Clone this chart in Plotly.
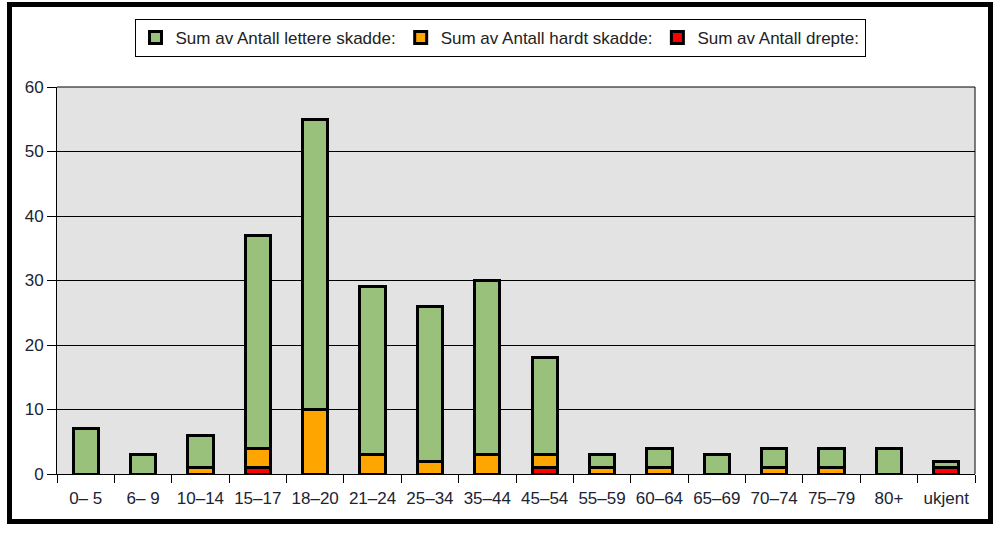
import plotly.graph_objects as go

categories = ["0– 5", "6– 9", "10–14", "15–17", "18–20", "21–24", "25–34", "35–44",
              "45–54", "55–59", "60–64", "65–69", "70–74", "75–79", "80+", "ukjent"]
drepte = [0, 0, 0, 1, 0, 0, 0, 0, 1, 0, 0, 0, 0, 0, 0, 1]
hardt = [0, 0, 1, 3, 10, 3, 2, 3, 2, 1, 1, 0, 1, 1, 0, 0]
lettere = [7, 3, 5, 33, 45, 26, 24, 27, 15, 2, 3, 3, 3, 3, 4, 1]
y_ticks = [0, 10, 20, 30, 40, 50, 60]

L, R, T, B = 57, 975, 87, 474
W, H = 1003, 539
pw, ph = R - L, B - T

def px(x):
    return (x - L) / pw

def py(y):
    return (B - y) / ph

fig = go.Figure()
line = dict(color="black", width=3)
fig.add_trace(go.Bar(x=categories, y=drepte, name="Sum av Antall drepte:",
                     marker=dict(color="#ff0000", line=line)))
fig.add_trace(go.Bar(x=categories, y=hardt, name="Sum av Antall hardt skadde:",
                     marker=dict(color="#ffa500", line=line)))
fig.add_trace(go.Bar(x=categories, y=lettere, name="Sum av Antall lettere skadde:",
                     marker=dict(color="#99c17c", line=line)))

font_color = "#1b2333"
fig.update_layout(
    width=W, height=H,
    barmode="stack", bargap=0.56,
    paper_bgcolor="white", plot_bgcolor="#e3e3e3",
    font=dict(family="Liberation Sans, Arial", size=17, color=font_color),
    margin=dict(l=L, r=W - R, t=T, b=H - B, pad=0),
    legend=dict(orientation="h", traceorder="reversed",
                x=px(500), xanchor="center", y=py(19), yanchor="top",
                bordercolor="black", borderwidth=1, bgcolor="white",
                itemwidth=30, tracegroupgap=0,
                font=dict(size=17, color="#222222")),
    xaxis=dict(type="category", showgrid=False, ticks="outside", tickson="boundaries",
               ticklen=8, tickcolor="black", tickwidth=1, ticklabelstandoff=9,
               showline=True, linecolor="black", linewidth=1, mirror=False,
               tickfont=dict(size=17, color=font_color)),
    yaxis=dict(range=[0, 60], tickvals=y_ticks, showgrid=True, gridcolor="black",
               gridwidth=1, ticks="outside", ticklen=9, tickcolor="black",
               showline=True, linecolor="black", linewidth=1, zeroline=False,
               tickfont=dict(size=17, color=font_color)),
    shapes=[
        dict(type="line", xref="paper", yref="paper", x0=1, x1=1,
             y0=0, y1=1, line=dict(color="black", width=1)),
        dict(type="line", xref="paper", yref="paper", x0=0, x1=1, y0=1, y1=1,
             line=dict(color="black", width=1)),
        dict(type="rect", xref="paper", yref="paper",
             x0=px(9.5), x1=px(990.5), y0=py(521.5), y1=py(4.5),
             line=dict(color="black", width=5), layer="above"),
    ],
)

fig.write_html("out.html", config={"displayModeBar": False},
               post_script="document.body.style.margin='0';document.body.style.overflow='hidden';")
